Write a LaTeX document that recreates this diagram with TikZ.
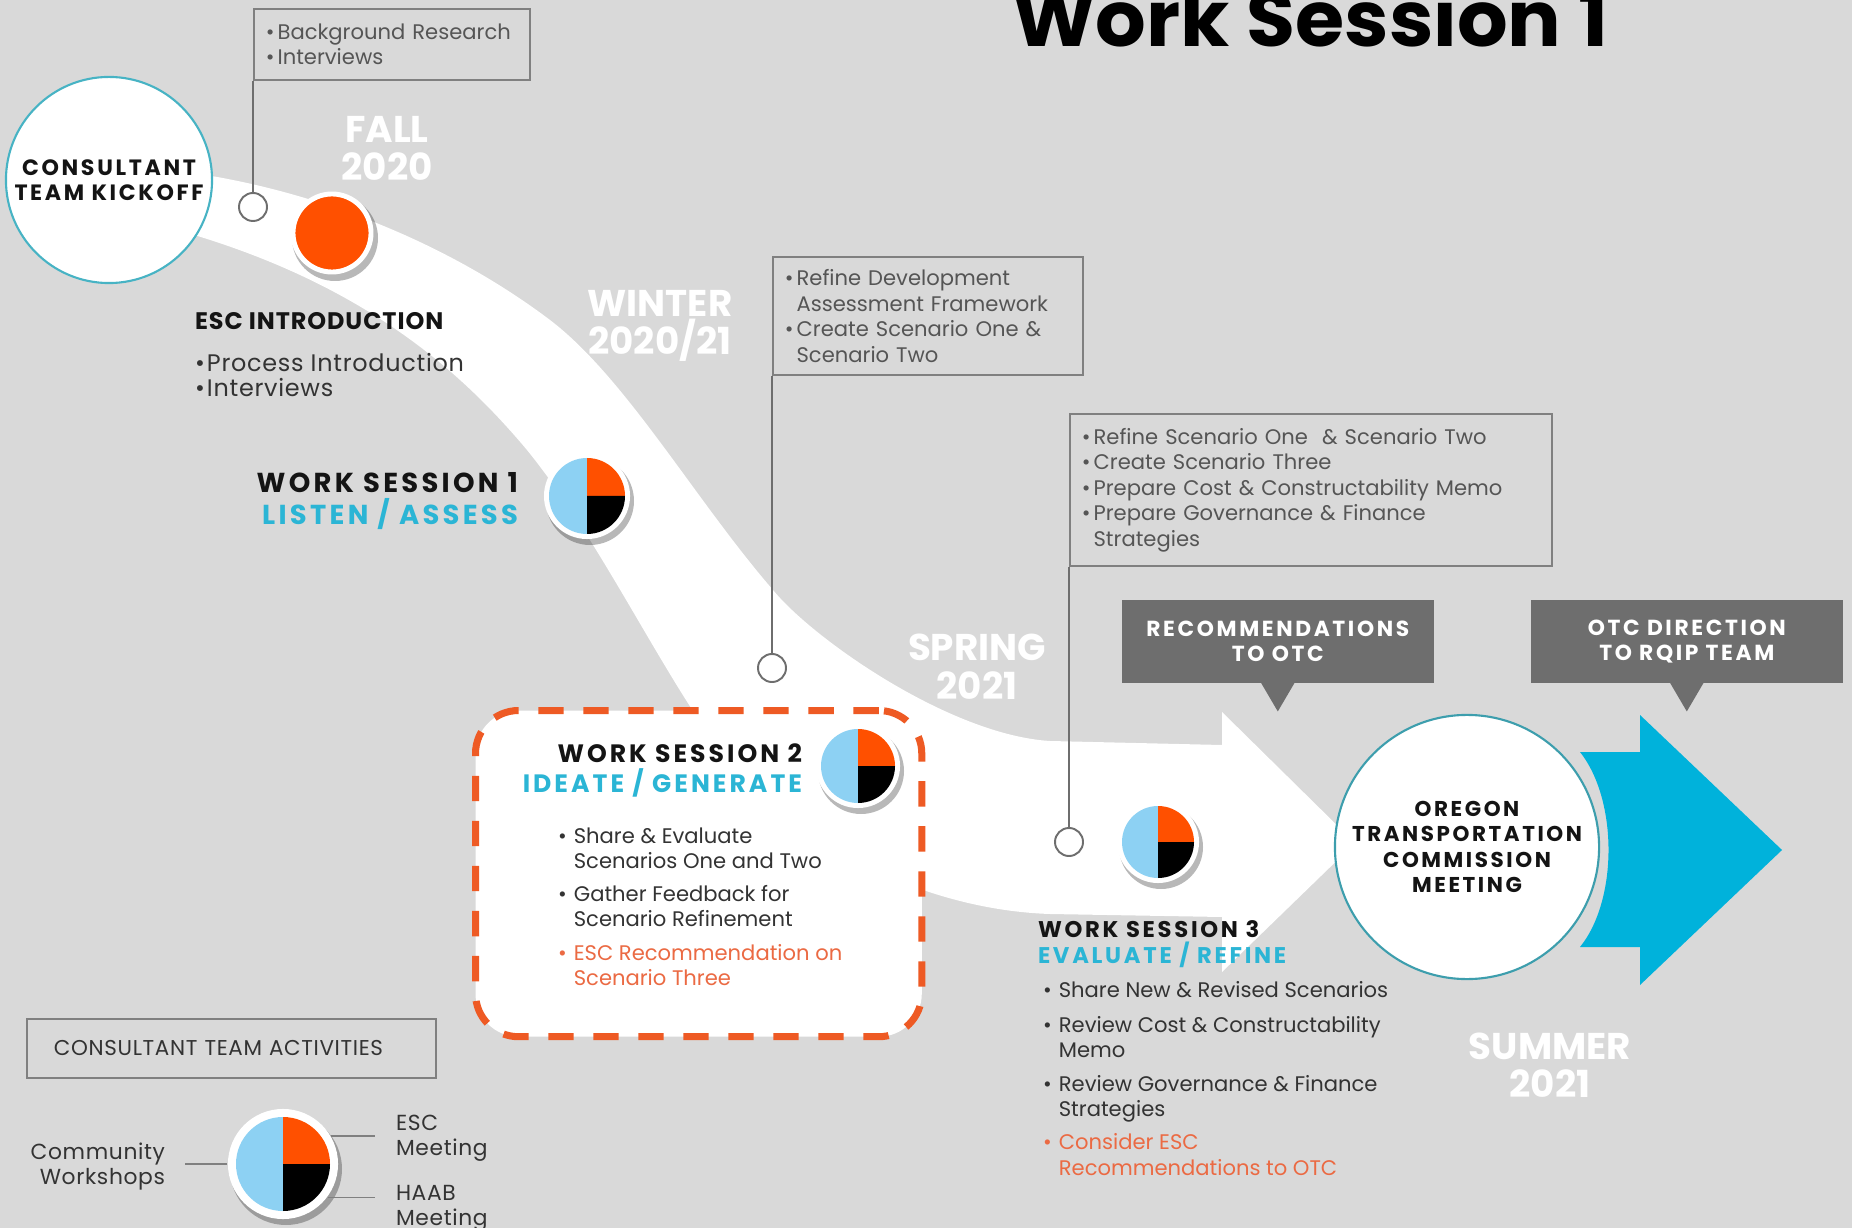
\documentclass[tikz,border=0pt]{standalone}
\usepackage{fontspec}
\usepackage{graphicx}
\setmainfont{Poppins}
\newfontfamily\hdfont{Poppins}[LetterSpace=12]
\newfontfamily\hdsfont{Poppins}[LetterSpace=4]
\newfontfamily\bdfont{Poppins}[LetterSpace=3]
\usetikzlibrary{calc}
\definecolor{bgc}{HTML}{D9D9D9}
\definecolor{hblack}{HTML}{141414}
\definecolor{tealtxt}{HTML}{2BB5D5}
\definecolor{btxt}{HTML}{333333}
\definecolor{otxt}{HTML}{EB6A43}
\definecolor{boxline}{HTML}{808080}
\definecolor{boxtxt}{HTML}{555555}
\definecolor{connc}{HTML}{6E6E6E}
\definecolor{callc}{HTML}{6E6E6E}
\definecolor{arrowc}{HTML}{00B2DB}
\definecolor{pieblue}{HTML}{8DD1F3}
\definecolor{pieorange}{HTML}{FF5000}
\definecolor{kickc}{HTML}{47B3C4}
\definecolor{otcc}{HTML}{3D9EAD}
\definecolor{dashc}{HTML}{EE5A24}
\newcommand\bu{\makebox[0.75em][l]{•}}
\newcommand\ind{\hspace*{0.75em}}
\newcommand\bus{\makebox[0.5em][l]{•}}
\newcommand\bub{\makebox[0.55em][l]{•}}
\newcommand\indb{\hspace*{0.55em}}
% name, x, y, inner radius, ring
\newcommand\wspie[5]{%
  \fill[black, opacity=0.28] (#2+3,#3+5) circle[radius=#4+#5+1];
  \node[circle, fill=white, minimum size=#4*0.02cm+#5*0.02cm, inner sep=0] (#1) at (#2,#3) {};
  \fill[pieblue] (#1.center) -- ++(270:#4) arc[start angle=270, end angle=90, radius=#4] -- cycle;
  \fill[pieorange] (#1.center) -- ++(0:#4) arc[start angle=0, end angle=-90, radius=#4] -- cycle;
  \fill[black] (#1.center) -- ++(90:#4) arc[start angle=90, end angle=0, radius=#4] -- cycle;
}
\begin{document}
\begin{tikzpicture}[x=0.01cm,y=-0.01cm,
  txt/.style={inner sep=0, outer sep=0},
  hd/.style={txt, font=\hdfont\bfseries\fontsize{7}{8}\selectfont, text=hblack},
  hdone/.style={txt, font=\hdfont\bfseries\fontsize{7.8}{8}\selectfont},
  hdtwo/.style={txt, font=\hdfont\bfseries\fontsize{7.15}{8}\selectfont},
  hdthree/.style={txt, font=\hdfont\bfseries\fontsize{6.45}{8}\selectfont},
  blk/.style={text=hblack},
  tl/.style={text=tealtxt},
  bd/.style={txt, font=\fontsize{6}{7}\selectfont, text=btxt},
  bdo/.style={bd, text=otxt},
  esclist/.style={txt, font=\bdfont\fontsize{6.8}{7}\selectfont, text=btxt},
  season/.style={txt, font=\bfseries\fontsize{10.6}{12}\selectfont, text=white},
  gbox/.style={draw=boxline, line width=0.55pt, inner xsep=0.12cm, inner ysep=0, align=left,
     font=\fontsize{6}{7.25}\selectfont, text=boxtxt, anchor=north west},
  conn/.style={draw=connc, line width=0.45pt},
  smallc/.style={circle, draw=connc, line width=0.55pt, fill=white, minimum size=0.28cm, inner sep=0},
  callout/.style={fill=callc, text=white, font=\hdfont\bfseries\fontsize{6.2}{7.1}\selectfont,
     align=center, anchor=north west, inner sep=0, minimum width=3.12cm, minimum height=0.83cm},
  bigc/.style={circle, fill=white, align=center, inner sep=0, text=hblack},
  legline/.style={draw=boxline, line width=0.45pt},
  legtxt/.style={txt, font=\bdfont\fontsize{6.2}{7}\selectfont, text=btxt}
]
\useasboundingbox (0,0) rectangle (1852,1228);
\fill[bgc] (0,0) rectangle (1852,1228);

% white swoosh band with arrow head
\fill[white] (170,170) .. controls (300,185) and (440,237) .. (550,320)
  .. controls (626,378) and (695,500) .. (773,590)
  .. controls (813,639) and (950,735) .. (1050,741)
  -- (1222,745) -- (1222,712) -- (1355,843) -- (1222,972) -- (1222,917) -- (1050,914)
  .. controls (930,910) and (800,850) .. (720,750)
  .. controls (660,670) and (600,540) .. (527,450)
  .. controls (460,370) and (360,280) .. (170,228) -- cycle;

% blue arrow
\fill[arrowc] (1580,752) -- (1640,752) -- (1640,715) -- (1782,850) -- (1640,985) -- (1640,947)
  -- (1580,947) .. controls (1618,900) and (1618,800) .. (1580,752) -- cycle;

% callouts
\node[callout] (co1) at (1121,599) {RECOMMENDATIONS\\TO OTC};
\fill[callc] ($(co1.south)+(-17,-1)$) -- ($(co1.south)+(0,28)$) -- ($(co1.south)+(17,-1)$) -- cycle;
\node[callout] (co2) at (1530,599) {OTC DIRECTION\\TO RQIP TEAM};
\fill[callc] ($(co2.south)+(-17,-1)$) -- ($(co2.south)+(0,28)$) -- ($(co2.south)+(17,-1)$) -- cycle;

% consultant activity boxes
\node[gbox, text width=2.52cm, minimum height=0.71cm] (b1) at (253,8)
  {\bub Background Research\\\bub Interviews};
\node[gbox, text width=2.86cm, minimum height=1.18cm] (b2) at (772,256)
  {\bub Refine Development\\\indb Assessment Framework\\\bub Create Scenario One \&\\\indb Scenario Two};
\node[gbox, text width=4.58cm, minimum height=1.52cm] (b3) at (1069,413)
  {\bub Refine Scenario One \ \& Scenario Two\\\bub Create Scenario Three\\\bub Prepare Cost \& Constructability Memo\\\bub Prepare Governance \& Finance\\\indb Strategies};

\node[smallc] (s1) at (253,207) {};
\node[smallc] (s2) at (772,668) {};
\node[smallc] (s3) at (1069,842) {};
\draw[conn] (b1.south west) -- (s1.north);
\draw[conn] (b2.south west) -- (s2.north);
\draw[conn] (b3.south west) -- (s3.north);

% work session 2 dashed frame
\node[draw=dashc, fill=white, line width=2pt, dash pattern=on 7.2pt off 5.6pt, rounded corners=0.43cm,
  minimum width=4.46cm, minimum height=3.26cm, anchor=north west] (ws2box) at (472,707) {};

% big circles
\node[bigc, draw=kickc, line width=0.6pt, minimum size=2.06cm,
  font=\hdfont\bfseries\fontsize{6.3}{7.2}\selectfont] (kick) at (109,180) {CONSULTANT\\TEAM KICKOFF};
\node[bigc, draw=otcc, line width=0.6pt, minimum size=2.64cm,
  font=\hdfont\bfseries\fontsize{6.1}{7.2}\selectfont] (otc) at (1467,847)
  {OREGON\\TRANSPORTATION\\COMMISSION\\MEETING};

% ESC introduction dot
\fill[black, opacity=0.28] (335,238) circle[radius=43];
\node[circle, fill=pieorange, draw=white, line width=1.4pt, minimum size=0.78cm, inner sep=0] (escdot) at (332,233) {};

% pies
\wspie{p1}{587}{496}{38}{5}
\wspie{p2}{858}{766}{37}{5}
\wspie{p3}{1158}{842}{36}{5}

% season labels
\node[season, anchor=base] (fa1) at (387,143) {FALL};
\node[season, anchor=base] (fa2) at (387,181) {2020};
\node[season, anchor=base] (wi1) at (660,317) {WINTER};
\node[season, anchor=base] (wi2) at (660,355) {2020/21};
\node[season, anchor=base] (sp1) at (977,660) {SPRING};
\node[season, anchor=base] (sp2) at (977,699) {2021};
\node[season, anchor=base] (su1) at (1550,1059) {SUMMER};
\node[season, anchor=base] (su2) at (1550,1097) {2021};

% ESC introduction
\node[txt, font=\hdsfont\bfseries\fontsize{6.8}{8}\selectfont, text=hblack, anchor=base west] (esch) at (195,330) {ESC INTRODUCTION};
\node[esclist, anchor=base west] (esc1) at (195,372) {\bus Process Introduction};
\node[esclist, anchor=base west] (esc2) at (195,397) {\bus Interviews};

% work session 1
\node[hdone, blk, anchor=base east] (ws1a) at (518,493) {WORK SESSION 1};
\node[hdone, tl, anchor=base east] (ws1b) at (518,525) {LISTEN / ASSESS};

% work session 2
\node[hdtwo, blk, anchor=base east] (ws2a) at (802,762) {WORK SESSION 2};
\node[hdtwo, tl, anchor=base east] (ws2b) at (802,792) {IDEATE / GENERATE};
\node[bd, anchor=base west] (w2l1) at (558,843) {\bu Share \& Evaluate};
\node[bd, anchor=base west] (w2l2) at (558,868) {\ind Scenarios One and Two};
\node[bd, anchor=base west] (w2l3) at (558,901) {\bu Gather Feedback for};
\node[bd, anchor=base west] (w2l4) at (558,926) {\ind Scenario Refinement};
\node[bdo, anchor=base west] (w2l5) at (558,960) {\bu ESC Recommendation on};
\node[bdo, anchor=base west] (w2l6) at (558,985) {\ind Scenario Three};

% work session 3
\node[hdthree, blk, anchor=base west] (ws3a) at (1038,937) {WORK SESSION 3};
\node[hdthree, tl, anchor=base west] (ws3b) at (1038,963) {EVALUATE / REFINE};
\node[bd, anchor=base west] (w3l1) at (1043,997) {\bu Share New \& Revised Scenarios};
\node[bd, anchor=base west] (w3l2) at (1043,1032) {\bu Review Cost \& Constructability};
\node[bd, anchor=base west] (w3l3) at (1043,1057) {\ind Memo};
\node[bd, anchor=base west] (w3l4) at (1043,1091) {\bu Review Governance \& Finance};
\node[bd, anchor=base west] (w3l5) at (1043,1116) {\ind Strategies};
\node[bdo, anchor=base west] (w3l6) at (1043,1149) {\bu Consider ESC};
\node[bdo, anchor=base west] (w3l7) at (1043,1175) {\ind Recommendations to OTC};

% legend
\node[draw=boxline, line width=0.55pt, anchor=north west, minimum height=0.59cm, inner xsep=0.27cm,
  text width=3.55cm, align=left, font=\bdfont\fontsize{6.1}{7}\selectfont, text=btxt] (leg) at (26,1018)
  {CONSULTANT TEAM ACTIVITIES};
\wspie{lp}{283}{1164}{47}{8}
\node[legtxt, anchor=base east] (cw1) at (165,1159) {Community};
\node[legtxt, anchor=base east] (cw2) at (165,1184) {Workshops};
\node[legtxt, anchor=base west] (em1) at (396,1130) {ESC};
\node[legtxt, anchor=base west] (em2) at (396,1155) {Meeting};
\node[legtxt, anchor=base west] (hm1) at (396,1200) {HAAB};
\node[legtxt, anchor=base west] (hm2) at (396,1225) {Meeting};
\draw[legline] (lp.west) -- ++(-42,0);
\draw[legline] (lp.30) -- ++(44,0);
\draw[legline] (lp.-37) -- ++(47,0);

% title
\node[txt, anchor=base west] (title) at (1012,47) {\resizebox{5.96cm}{0.62cm}{\bfseries Work Session 1}};
\end{tikzpicture}
\end{document}
